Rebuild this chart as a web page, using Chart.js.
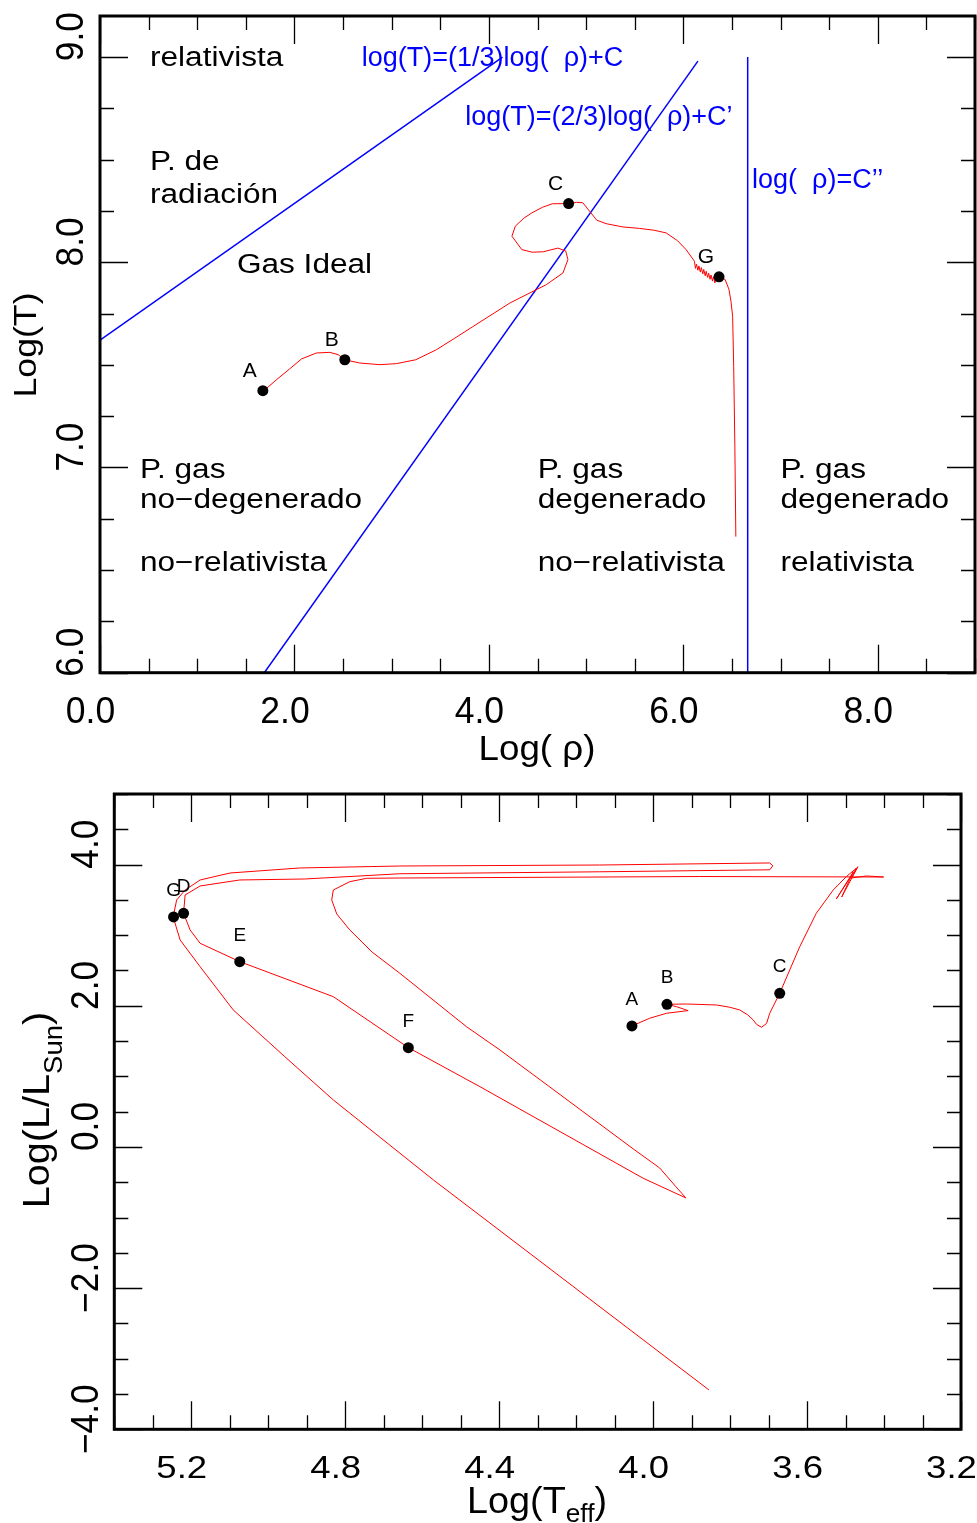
<!DOCTYPE html>
<html>
<head>
<meta charset="utf-8">
<script src="https://cdn.jsdelivr.net/npm/chart.js@4.4.1/dist/chart.umd.min.js"></script>
<style>
  html, body { margin: 0; padding: 0; background: #fff; }
  #wrap { position: relative; width: 977px; height: 1523px; overflow: hidden; }
  canvas { position: absolute; left: 0; }
  #c1 { top: 0; }
  #c2 { top: 770px; }
</style>
</head>
<body>
<div id="wrap">
  <canvas id="c1" width="977" height="770"></canvas>
  <canvas id="c2" width="977" height="753"></canvas>
</div>
<script>
// ---------- Panel 1: central temperature vs central density ----------
const rhoTickValues = [0, 2, 4, 6, 8];
const rhoTickLabels = ['0.0', '2.0', '4.0', '6.0', '8.0'];
const tempTickValues = [6, 7, 8, 9];
const tempTickLabels = ['6.0', '7.0', '8.0', '9.0'];

// evolutionary track of the centre (log rho, log T)
const trackLogRho = [1.678, 1.816, 1.950, 2.073, 2.227, 2.364, 2.449, 2.518, 2.672, 2.878, 3.049,
  3.248, 3.461, 3.649, 3.840, 4.218, 4.591, 4.762, 4.813, 4.790, 4.710, 4.558, 4.445, 4.338,
  4.237, 4.272, 4.360, 4.443, 4.552, 4.652, 4.823, 4.900, 4.966, 5.035, 5.110, 5.206, 5.380,
  5.549, 5.700, 5.823, 5.940, 6.028, 6.114,
  6.125, 6.135, 6.150, 6.160, 6.175, 6.185, 6.200, 6.210, 6.225, 6.235, 6.250, 6.260,
  6.275, 6.285, 6.300, 6.310, 6.325, 6.335,
  6.367, 6.430, 6.469, 6.490, 6.507, 6.518, 6.530, 6.540];
const trackLogT = [7.371, 7.428, 7.480, 7.529, 7.558, 7.561, 7.550, 7.525, 7.509, 7.501, 7.506,
  7.525, 7.574, 7.630, 7.688, 7.802, 7.891, 7.948, 8.013, 8.055, 8.069, 8.051, 8.049, 8.062,
  8.127, 8.176, 8.215, 8.241, 8.268, 8.285, 8.286, 8.292, 8.290, 8.249, 8.205, 8.188, 8.172,
  8.165, 8.156, 8.143, 8.105, 8.062, 8.005,
  7.970, 7.991, 7.961, 7.982, 7.952, 7.974, 7.943, 7.965, 7.934, 7.956, 7.926, 7.947,
  7.917, 7.938, 7.908, 7.929, 7.899, 7.921,
  7.929, 7.916, 7.868, 7.810, 7.737, 7.493, 7.100, 6.663];

// marked stages on the central track
const stageNames1 = ['A', 'B', 'C', 'G'];
const stageLogRho = [1.675, 2.518, 4.820, 6.367];
const stageLogT = [7.374, 7.525, 8.286, 7.929];

// boundaries between pressure regimes
const radiationLineRho = [0, 4.14];
const radiationLineT = [7.62, 9.0];
const degeneracyLineRho = [1.69, 6.15];
const degeneracyLineT = [6.0, 8.98];
const relativisticLineRho = [6.662, 6.662];
const relativisticLineT = [6.0, 9.0];

// ---------- Panel 2: HR diagram ----------
const teffTickValues = [5.2, 4.8, 4.4, 4.0, 3.6, 3.2];
const teffTickLabels = ['5.2', '4.8', '4.4', '4.0', '3.6', '3.2'];
const lumTickValues = [-4, -2, 0, 2, 4];
const lumTickLabels = ['\u22124.0', '\u22122.0', '0.0', '2.0', '4.0'];

const hrLogTeff = [4.055, 4.009, 3.965, 3.909, 3.939, 3.965, 3.913, 3.835, 3.801, 3.775, 3.754,
  3.740, 3.731, 3.718, 3.705, 3.697, 3.671, 3.619, 3.576, 3.532, 3.498, 3.472, 3.524, 3.480,
  3.510, 3.468, 3.485, 3.446, 3.401, 3.879, 4.398, 4.658, 4.744, 4.788, 4.831, 4.835, 4.822,
  4.788, 4.730, 4.658, 4.485, 4.398, 4.125, 4.048, 3.983, 3.941, 3.915, 4.026, 4.450, 4.636,
  4.831, 5.074, 5.177, 5.203, 5.220, 5.216, 5.177, 5.074, 4.905, 4.658, 4.139, 3.697, 3.689,
  3.697, 4.139, 4.658, 4.918, 5.099, 5.177, 5.216, 5.238, 5.247, 5.229, 5.177, 5.091, 4.957,
  4.831, 4.571, 3.855];
const hrLogL = [1.714, 1.823, 1.894, 1.931, 1.987, 2.021, 2.025, 2.011, 1.979, 1.941, 1.870,
  1.799, 1.735, 1.695, 1.752, 1.894, 2.177, 2.837, 3.310, 3.640, 3.829, 3.948, 3.513, 3.895,
  3.541, 3.970, 3.810, 3.839, 3.824, 3.831, 3.817, 3.810, 3.806, 3.758, 3.640, 3.499, 3.300,
  3.074, 2.760, 2.460, 1.704, 1.374, 0.269, -0.042, -0.297, -0.562, -0.722, -0.443, 0.854, 1.407,
  2.129, 2.625, 2.885, 3.074, 3.310, 3.569, 3.697, 3.782, 3.796, 3.870, 3.898, 3.926, 3.983,
  4.023, 3.994, 3.980, 3.952, 3.881, 3.782, 3.640, 3.499, 3.258, 2.932, 2.554, 1.941, 1.279,
  0.666, -0.467, -3.442];

const stageNames2 = ['A', 'B', 'C', 'D', 'E', 'F', 'G'];
const stageLogTeff = [4.055, 3.964, 3.671, 5.220, 5.074, 4.636, 5.246];
const stageLogL = [1.714, 2.021, 2.177, 3.310, 2.625, 1.407, 3.258];

// ---------- helpers ----------
const FONT = '"Liberation Sans", Arial, Helvetica, sans-serif';
const pts = (xs, ys) => xs.map((x, i) => ({ x: x, y: ys[i] }));

function put(ctx, s, x, y, size, o = {}) {
  ctx.save();
  ctx.translate(x, y);
  if (o.rot) ctx.rotate(o.rot);
  ctx.scale(o.sx || 1, o.sy || 1);
  ctx.font = size + 'px ' + FONT;
  ctx.fillStyle = o.color || '#000';
  ctx.textAlign = o.align || 'left';
  ctx.textBaseline = 'alphabetic';
  ctx.fillText(s, 0, 0);
  ctx.restore();
}

// text made of runs [text, size, baselineShift], centred on (x, y)
function putRuns(ctx, runs, x, y, o = {}) {
  ctx.save();
  ctx.translate(x, y);
  if (o.rot) ctx.rotate(o.rot);
  ctx.scale(o.sx || 1, 1);
  let total = 0;
  const widths = runs.map(r => {
    ctx.font = r[1] + 'px ' + FONT;
    const w = ctx.measureText(r[0]).width;
    total += w;
    return w;
  });
  let cx = -total / 2;
  ctx.fillStyle = '#000';
  ctx.textAlign = 'left';
  ctx.textBaseline = 'alphabetic';
  runs.forEach((r, i) => {
    ctx.font = r[1] + 'px ' + FONT;
    ctx.fillText(r[0], cx, r[2] || 0);
    cx += widths[i];
  });
  ctx.restore();
}

// frame with inward ticks on all four sides
function drawFrame(chart, spec) {
  const ctx = chart.ctx, a = chart.chartArea;
  const xs = chart.scales.x, ys = chart.scales.y;
  const isMajor = (list, v) => list.some(m => Math.abs(m - v) < 1e-6);
  ctx.save();
  ctx.strokeStyle = '#000';
  ctx.lineWidth = 1.3;
  ctx.beginPath();
  const nx = Math.floor((xs.max - xs.min) / spec.xMinor + 1e-6);
  for (let i = 0; i <= nx; i++) {
    const v = xs.min + i * spec.xMinor;
    const len = isMajor(spec.xMajor, v) ? 28 : 14;
    const p = Math.round(xs.getPixelForValue(v)) + 0.5;
    ctx.moveTo(p, a.bottom); ctx.lineTo(p, a.bottom - len);
    ctx.moveTo(p, a.top); ctx.lineTo(p, a.top + len);
  }
  const ny = Math.floor((ys.max - ys.min) / spec.yMinor + 1e-6);
  for (let i = 0; i <= ny; i++) {
    const v = ys.min + i * spec.yMinor;
    const len = isMajor(spec.yMajor, v) ? 28 : 14;
    const p = Math.round(ys.getPixelForValue(v)) + 0.5;
    ctx.moveTo(a.left, p); ctx.lineTo(a.left + len, p);
    ctx.moveTo(a.right, p); ctx.lineTo(a.right - len, p);
  }
  ctx.stroke();
  ctx.lineWidth = 3;
  ctx.strokeRect(a.left, a.top, a.right - a.left, a.bottom - a.top);
  ctx.restore();
}

function lineSet(xs, ys, color, width, order) {
  return { data: pts(xs, ys), showLine: true, borderColor: color, borderWidth: width,
           pointRadius: 0, fill: false, tension: 0, order: order };
}
function dotSet(xs, ys) {
  return { data: pts(xs, ys), showLine: false, pointRadius: 5.5, pointBorderWidth: 0,
           backgroundColor: '#000', borderColor: '#000', order: 0 };
}

const common = {
  responsive: false,
  animation: false,
  devicePixelRatio: 1,
  events: [],
  plugins: { legend: { display: false }, tooltip: { enabled: false } }
};

// ---------- chart 1 ----------
new Chart(document.getElementById('c1'), {
  type: 'scatter',
  data: {
    datasets: [
      dotSet(stageLogRho, stageLogT),
      lineSet(trackLogRho, trackLogT, '#ff0000', 1, 1),
      lineSet(radiationLineRho, radiationLineT, '#0000ff', 1.5, 2),
      lineSet(degeneracyLineRho, degeneracyLineT, '#0000ff', 1.5, 2),
      lineSet(relativisticLineRho, relativisticLineT, '#0000ff', 1.5, 2)
    ]
  },
  options: Object.assign({}, common, {
    layout: { autoPadding: false, padding: { left: 100, top: 16, right: 2, bottom: 97.3 } },
    scales: {
      x: { type: 'linear', min: 0, max: 9, display: false },
      y: { type: 'linear', min: 6, max: 9.2, display: false }
    }
  }),
  plugins: [{
    id: 'panel1Decor',
    afterDraw(chart) {
      const ctx = chart.ctx, xs = chart.scales.x, ys = chart.scales.y;
      const X = v => xs.getPixelForValue(v), Y = v => ys.getPixelForValue(v);
      drawFrame(chart, { xMinor: 0.5, xMajor: rhoTickValues, yMinor: 0.25, yMajor: tempTickValues });

      rhoTickValues.forEach((v, i) => put(ctx, rhoTickLabels[i], X(v) - 9.5, 723, 37, { align: 'center', sx: 0.96 }));
      tempTickValues.forEach((v, i) => put(ctx, tempTickLabels[i], 83, Y(v) - 45, 38, { rot: -Math.PI / 2, align: 'right', sx: 0.93 }));

      putRuns(ctx, [['Log( \u03c1)', 35]], 537, 760, { sx: 1.05 });
      putRuns(ctx, [['Log(T)', 31]], 35.6, 345, { rot: -Math.PI / 2, sx: 1.15 });

      // regime names
      const black = { sx: 1.17 };
      [
        ['relativista', 0.514, 8.955],
        ['P. de', 0.514, 8.452],
        ['radiaci\u00f3n', 0.514, 8.291],
        ['Gas Ideal', 1.408, 7.950],
        ['P. gas', 0.411, 6.950], ['no\u2212degenerado', 0.411, 6.803], ['no\u2212relativista', 0.411, 6.496],
        ['P. gas', 4.502, 6.950], ['degenerado', 4.502, 6.803], ['no\u2212relativista', 4.502, 6.496],
        ['P. gas', 6.999, 6.950], ['degenerado', 6.999, 6.803], ['relativista', 6.999, 6.496]
      ].forEach(n => put(ctx, n[0], X(n[1]), Y(n[2]), 27, black));

      // boundary equations
      const blue = { color: '#0000ff' };
      put(ctx, 'log(T)=(1/3)log(  \u03c1)+C', X(2.693), Y(8.955), 27, blue);
      put(ctx, 'log(T)=(2/3)log(  \u03c1)+C\u2019', X(3.756), Y(8.667), 27, blue);
      put(ctx, 'log(  \u03c1)=C\u2019\u2019', X(6.707), Y(8.364), 27, blue);

      stageNames1.forEach((s, i) => put(ctx, s, X(stageLogRho[i]) - 13, Y(stageLogT[i]) - 13.5, 21, { align: 'center' }));
    }
  }]
});

// ---------- chart 2 ----------
new Chart(document.getElementById('c2'), {
  type: 'scatter',
  data: {
    datasets: [
      dotSet(stageLogTeff, stageLogL),
      lineSet(hrLogTeff, hrLogL, '#ff0000', 1, 1)
    ]
  },
  options: Object.assign({}, common, {
    layout: { autoPadding: false, padding: { left: 114.3, top: 24, right: 16, bottom: 93.7 } },
    scales: {
      x: { type: 'linear', min: 3.2, max: 5.4, reverse: true, display: false },
      y: { type: 'linear', min: -4, max: 5, display: false }
    }
  }),
  plugins: [{
    id: 'panel2Decor',
    afterDraw(chart) {
      const ctx = chart.ctx, xs = chart.scales.x, ys = chart.scales.y;
      const X = v => xs.getPixelForValue(v), Y = v => ys.getPixelForValue(v);
      drawFrame(chart, { xMinor: 0.1, xMajor: teffTickValues, yMinor: 0.5, yMajor: lumTickValues });

      teffTickValues.forEach((v, i) => put(ctx, teffTickLabels[i], X(v) - 9.5, 708, 31, { align: 'center', sx: 1.18 }));
      lumTickValues.forEach((v, i) => put(ctx, lumTickLabels[i], 98, Y(v) - 45, 38, { rot: -Math.PI / 2, align: 'right', sx: 0.93 }));

      putRuns(ctx, [['Log(T', 36], ['eff', 25, 9], [')', 36]], 537, 743, { sx: 1.05 });
      putRuns(ctx, [['Log(L/L', 36], ['Sun', 25, 13], [')', 36]], 49, 340, { rot: -Math.PI / 2, sx: 1.1 });

      stageNames2.forEach((s, i) => put(ctx, s, X(stageLogTeff[i]), Y(stageLogL[i]) - 21, 19, { align: 'center' }));
    }
  }]
});
</script>
</body>
</html>
